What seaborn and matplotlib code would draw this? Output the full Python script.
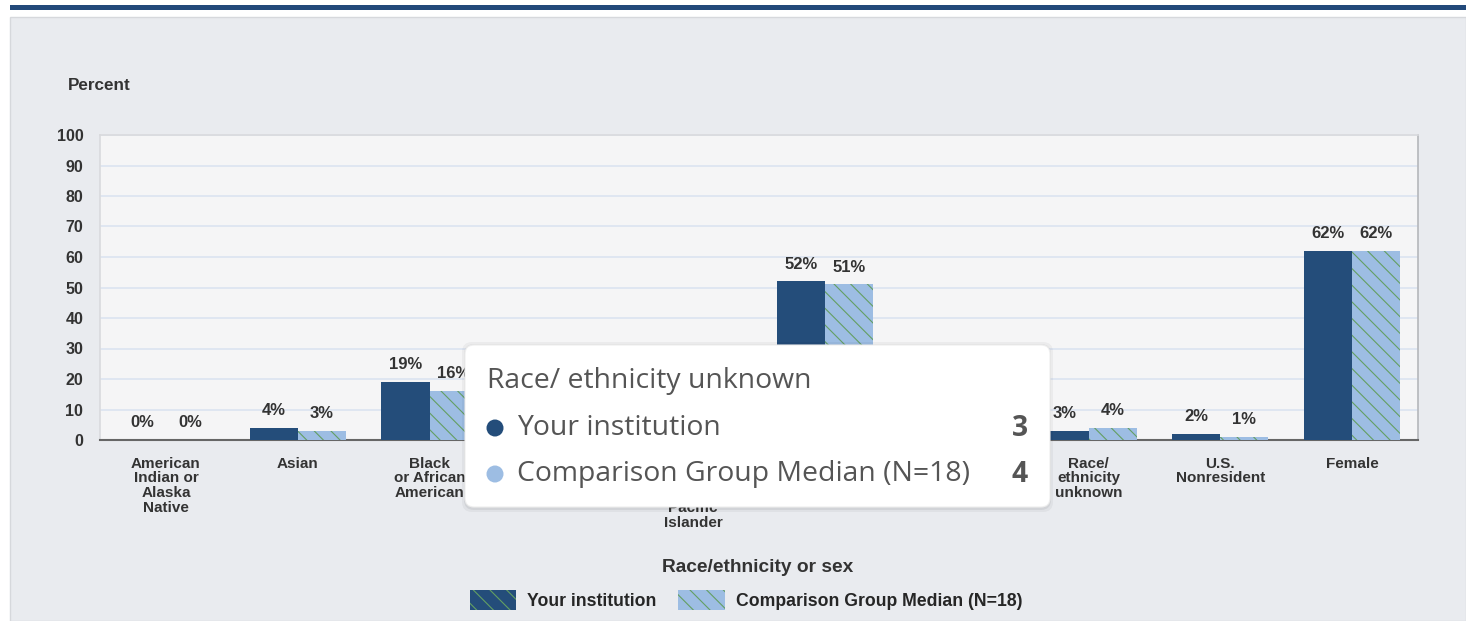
import numpy as np
import pandas as pd
import matplotlib
matplotlib.use("Agg")
import matplotlib.pyplot as plt
import seaborn as sns
from matplotlib.patches import Rectangle, FancyBboxPatch, Circle, Patch
from matplotlib.transforms import IdentityTransform

# ---------------- data ----------------
categories = [
    "American\nIndian or\nAlaska\nNative",
    "Asian",
    "Black\nor African\nAmerican",
    "Hispanic/\nLatino",
    "Native\nHawaiian or\nOther\nPacific\nIslander",
    "White",
    "Two or\nmore\nraces",
    "Race/\nethnicity\nunknown",
    "U.S.\nNonresident",
    "Female",
]
series_names = ["Your institution", "Comparison Group Median (N=18)"]
your_values = [0, 4, 19, 15, 0, 52, 5, 3, 2, 62]
comparison_values = [0, 3, 16, 17, 0, 51, 4, 4, 1, 62]
# value labels hidden behind the tooltip in the reference
hidden_label_categories = [3, 4, 6]
yticks = [0, 10, 20, 30, 40, 50, 60, 70, 80, 90, 100]
tooltip_title = "Race/ ethnicity unknown"
tooltip_values = [3, 4]

# ---------------- style ----------------
W, H = 1466, 621
DARK = "#244d7a"
LIGHT = "#9dbde3"
HATCH = "#639f63"
PANEL = "#e9ebef"
PLOTBG = "#f5f5f6"
GRID = "#dbe4f1"
TXT = "#333333"

sns.set_theme(style="white")
plt.rcParams["font.family"] = ["Liberation Sans", "DejaVu Sans"]
plt.rcParams["hatch.linewidth"] = 0.8
plt.rcParams["hatch.color"] = HATCH

df = pd.DataFrame({
    "category": categories * 2,
    "series": [series_names[0]] * len(categories) + [series_names[1]] * len(categories),
    "value": your_values + comparison_values,
})

fig = plt.figure(figsize=(W / 100, H / 100), dpi=100)
fig.patch.set_facecolor("white")

def fx(x):
    return x / W

def fy(y):
    return 1 - y / H

# top band and panel
fig.add_artist(Rectangle((fx(10), fy(10)), fx(W - 10), 5 / H, transform=fig.transFigure,
                         facecolor="#22497a", edgecolor="none", zorder=-10))
fig.add_artist(Rectangle((fx(10), 0), fx(W - 10), fy(17), transform=fig.transFigure,
                         facecolor=PANEL, edgecolor="#d6d8dc", lw=1, zorder=-10))

ax = fig.add_axes([fx(100), fy(440), fx(1418) - fx(100), fy(135) - fy(440)])
ax.set_facecolor(PLOTBG)

sns.barplot(data=df, x="category", y="value", hue="series", order=categories,
            hue_order=series_names, palette=[DARK, LIGHT], width=0.73,
            saturation=1, legend=False, ax=ax, linewidth=0, zorder=3)

# hatch comparison bars
for p in ax.containers[1]:
    p.set_hatch("\\\\")
    p.set_edgecolor(HATCH)
    p.set_linewidth(0)

# value labels
for cont, vals in zip(ax.containers, [your_values, comparison_values]):
    labels = ["" if i in hidden_label_categories else f"{v}%" for i, v in enumerate(vals)]
    ax.bar_label(cont, labels=labels, padding=7,
                 fontsize=12, fontweight="bold", color=TXT)

ax.set_ylim(0, 100)
ax.set_xlim(-0.5, len(categories) - 0.5)
ax.set_yticks(yticks)
ax.set_yticklabels([str(t) for t in yticks], fontsize=11.5, fontweight="bold", color=TXT)
ax.yaxis.grid(True, color=GRID, lw=1.2)
ax.set_axisbelow(True)
ax.tick_params(axis="y", length=0, pad=12)

ax.set_xticks(range(len(categories)))
ax.set_xticklabels(categories, fontsize=11, fontweight="bold", color=TXT,
                   linespacing=1.07, va="top")
ax.tick_params(axis="x", which="major", length=0, pad=12)
ax.set_xticks(np.arange(-0.5, len(categories), 1), minor=True)
ax.tick_params(axis="x", which="minor", length=6, width=1.2, color="#666666", direction="out")
ax.set_xlabel("")
ax.set_ylabel("")

for s in ["top", "left"]:
    ax.spines[s].set_color("#d9dadd")
    ax.spines[s].set_linewidth(1.2)
ax.spines["right"].set_color("#b5b7bb")
ax.spines["right"].set_linewidth(1.2)
ax.spines["bottom"].set_color("#666666")
ax.spines["bottom"].set_linewidth(1.5)

fig.text(fx(68), fy(86), "Percent", fontsize=12.3, fontweight="bold", color=TXT,
         ha="left", va="center")
fig.text(fx(758), fy(567), "Race/ethnicity or sex", fontsize=13.8, fontweight="bold",
         color=TXT, ha="center", va="center")

# legend
handles = [
    Patch(facecolor=DARK, edgecolor=HATCH, hatch="\\\\", lw=0),
    Patch(facecolor=LIGHT, edgecolor=HATCH, hatch="\\\\", lw=0),
]
fig.legend(handles, series_names, loc="center", bbox_to_anchor=(fx(746), fy(600)),
           ncol=2, frameon=False, handlelength=2.65, handleheight=1.4,
           handletextpad=0.6, columnspacing=1.25,
           prop={"weight": "bold", "size": 12.7})

# tooltip overlay
idt = IdentityTransform()
bx0, by0, bx1, by1 = 465, 345, 1050, 507
for off, a in [(4, 0.04), (2, 0.06)]:
    fig.add_artist(FancyBboxPatch((bx0 - off + 1, H - by1 - off - 1), (bx1 - bx0) + 2 * off - 2,
                                  (by1 - by0) + 2 * off, boxstyle="round,pad=0,rounding_size=10",
                                  transform=idt, facecolor="black", edgecolor="none",
                                  alpha=a, zorder=20))
fig.add_artist(FancyBboxPatch((bx0, H - by1), bx1 - bx0, by1 - by0,
                              boxstyle="round,pad=0,rounding_size=9", transform=idt,
                              facecolor="white", edgecolor="#eeeeee", lw=0.8, zorder=21))
TT = ["Open Sans", "DejaVu Sans"]
fig.text(fx(487), fy(381), tooltip_title, fontsize=20.4, color="#555555", family=TT,
         ha="left", va="center", zorder=22)
for i, (name, col, val) in enumerate(zip(series_names, [DARK, LIGHT], tooltip_values)):
    yy = 428 + i * 46
    fig.add_artist(Circle((495, H - yy), 8.5, transform=idt, facecolor=col,
                          edgecolor="none", zorder=22))
    fig.text(fx(517), fy(yy), name, fontsize=20.4, color="#555555", family=TT,
             ha="left", va="center", zorder=22)
    fig.text(fx(1028), fy(yy), str(val), fontsize=20.4, fontweight="bold", color="#555555",
             family=TT, ha="right", va="center", zorder=22)

fig.savefig("out.png", dpi=100)
